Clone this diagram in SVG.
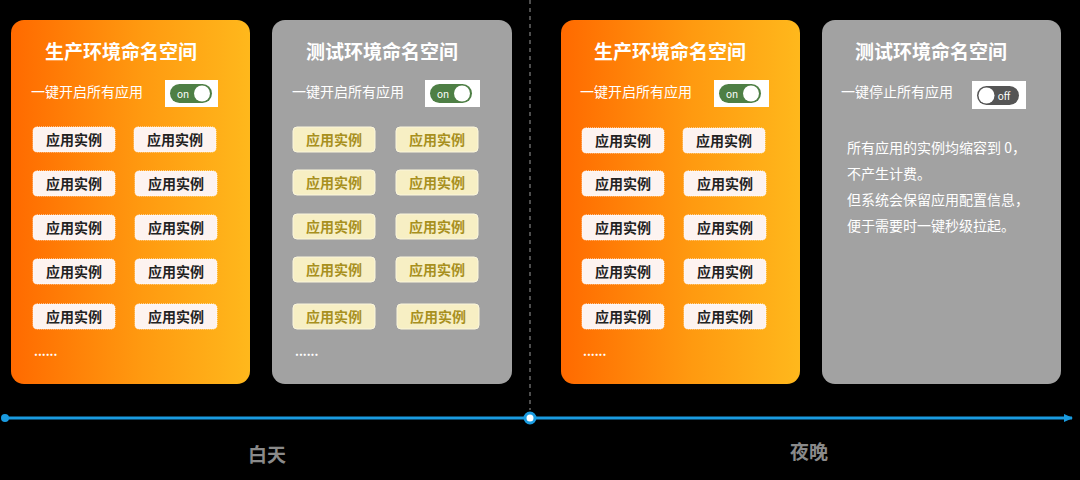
<svg xmlns="http://www.w3.org/2000/svg" width="1080" height="480" viewBox="0 0 1080 480">
<defs>
<linearGradient id="og" x1="0" y1="0" x2="1" y2="0">
<stop offset="0" stop-color="#ff6a00"/>
<stop offset="0.55" stop-color="#ff9a10"/>
<stop offset="1" stop-color="#ffb81c"/>
</linearGradient>
<marker id="arr" markerWidth="10" markerHeight="10" refX="8" refY="5" orient="auto" markerUnits="userSpaceOnUse">
<path d="M0,1 L9,5 L0,9 Z" fill="#1a9be0"/>
</marker>
<style>
text{font-family:"Noto Sans CJK SC","Noto Sans",sans-serif}
.title{font-size:19px;font-weight:bold;fill:#ffffff;text-anchor:middle}
.row{font-size:14px;fill:#ffffff}
.inst{fill:#fdf3f0;stroke:#ffffff;stroke-width:1;stroke-dasharray:1 1}
.instT{font-size:14px;font-weight:bold;fill:#222222;text-anchor:middle}
.inst2{fill:#f7efc4;stroke:#fbf6dc;stroke-width:1}
.instT2{font-size:14px;font-weight:bold;fill:#a8901e;text-anchor:middle}
.para{font-size:14px;fill:#ffffff}
.lbl{font-size:19px;font-weight:bold;fill:#8a8a8a;text-anchor:middle}
.dots{font-size:12px;fill:#ffffff;font-weight:bold}
</style>
</defs>
<rect width="1080" height="480" fill="#000000"/>

<g id="connectors">
<line x1="530" y1="0" x2="530" y2="410" stroke="#9a9a9a" stroke-width="1" stroke-dasharray="4 4"/>
<line x1="4" y1="418" x2="1072" y2="418" stroke="#1a9be0" stroke-width="3" marker-end="url(#arr)"/>
<circle cx="5" cy="418" r="4" fill="#1a9be0"/>
<circle cx="530" cy="418" r="5" fill="#ffffff" stroke="#1a9be0" stroke-width="3"/>
</g>

<g id="panel-prod-day">
<rect x="11" y="20" width="239" height="364" rx="13" fill="url(#og)"/>
<text class="title" x="121" y="59">生产环境命名空间</text>
<text class="row" x="31" y="97">一键开启所有应用</text>
<rect x="165" y="80" width="53" height="27" fill="#ffffff"/>
<rect x="170" y="84" width="42" height="19" rx="9.5" fill="#4e7f45"/>
<text x="183" y="98" font-size="10" fill="#ffffff" text-anchor="middle" font-family="Liberation Sans">on</text>
<circle cx="202" cy="93.5" r="8" fill="#ffffff"/>
<rect class="inst" x="33" y="127" width="82" height="25" rx="4"/><text class="instT" x="74" y="145">应用实例</text>
<rect class="inst" x="134" y="127" width="82" height="25" rx="4"/><text class="instT" x="175" y="145">应用实例</text>
<rect class="inst" x="33" y="171" width="82" height="25" rx="4"/><text class="instT" x="74" y="189">应用实例</text>
<rect class="inst" x="135" y="171" width="82" height="25" rx="4"/><text class="instT" x="176" y="189">应用实例</text>
<rect class="inst" x="33" y="215" width="82" height="25" rx="4"/><text class="instT" x="74" y="233">应用实例</text>
<rect class="inst" x="135" y="215" width="82" height="25" rx="4"/><text class="instT" x="176" y="233">应用实例</text>
<rect class="inst" x="33" y="259" width="82" height="25" rx="4"/><text class="instT" x="74" y="277">应用实例</text>
<rect class="inst" x="135" y="259" width="82" height="25" rx="4"/><text class="instT" x="176" y="277">应用实例</text>
<rect class="inst" x="33" y="304" width="82" height="25" rx="4"/><text class="instT" x="74" y="322">应用实例</text>
<rect class="inst" x="135" y="304" width="82" height="25" rx="4"/><text class="instT" x="176" y="322">应用实例</text>
<text class="dots" x="34" y="356">......</text>
</g>

<g id="panel-test-day">
<rect x="272" y="20" width="240" height="364" rx="13" fill="#a2a2a2"/>
<text class="title" x="382" y="59">测试环境命名空间</text>
<text class="row" x="292" y="97">一键开启所有应用</text>
<rect x="425" y="80" width="55" height="27" fill="#ffffff"/>
<rect x="430" y="84" width="42" height="19" rx="9.5" fill="#4e7f45"/>
<text x="443" y="98" font-size="10" fill="#ffffff" text-anchor="middle" font-family="Liberation Sans">on</text>
<circle cx="462" cy="93.5" r="8" fill="#ffffff"/>
<rect class="inst2" x="293" y="127" width="82" height="25" rx="4"/><text class="instT2" x="334" y="145">应用实例</text>
<rect class="inst2" x="396" y="127" width="82" height="25" rx="4"/><text class="instT2" x="437" y="145">应用实例</text>
<rect class="inst2" x="293" y="170" width="82" height="25" rx="4"/><text class="instT2" x="334" y="188">应用实例</text>
<rect class="inst2" x="396" y="170" width="82" height="25" rx="4"/><text class="instT2" x="437" y="188">应用实例</text>
<rect class="inst2" x="293" y="214" width="82" height="25" rx="4"/><text class="instT2" x="334" y="232">应用实例</text>
<rect class="inst2" x="396" y="214" width="82" height="25" rx="4"/><text class="instT2" x="437" y="232">应用实例</text>
<rect class="inst2" x="293" y="257" width="82" height="25" rx="4"/><text class="instT2" x="334" y="275">应用实例</text>
<rect class="inst2" x="396" y="257" width="82" height="25" rx="4"/><text class="instT2" x="437" y="275">应用实例</text>
<rect class="inst2" x="293" y="304" width="82" height="25" rx="4"/><text class="instT2" x="334" y="322">应用实例</text>
<rect class="inst2" x="397" y="304" width="82" height="25" rx="4"/><text class="instT2" x="438" y="322">应用实例</text>
<text class="dots" x="295" y="356">......</text>
</g>

<g id="panel-prod-night">
<rect x="561" y="20" width="239" height="364" rx="13" fill="url(#og)"/>
<text class="title" x="670" y="59">生产环境命名空间</text>
<text class="row" x="580" y="97">一键开启所有应用</text>
<rect x="714" y="80" width="55" height="27" fill="#ffffff"/>
<rect x="719" y="84" width="42" height="19" rx="9.5" fill="#4e7f45"/>
<text x="732" y="98" font-size="10" fill="#ffffff" text-anchor="middle" font-family="Liberation Sans">on</text>
<circle cx="751" cy="93.5" r="8" fill="#ffffff"/>
<rect class="inst" x="582" y="128" width="82" height="25" rx="4"/><text class="instT" x="623" y="146">应用实例</text>
<rect class="inst" x="683" y="128" width="82" height="25" rx="4"/><text class="instT" x="724" y="146">应用实例</text>
<rect class="inst" x="582" y="171" width="82" height="25" rx="4"/><text class="instT" x="623" y="189">应用实例</text>
<rect class="inst" x="684" y="171" width="82" height="25" rx="4"/><text class="instT" x="725" y="189">应用实例</text>
<rect class="inst" x="582" y="215" width="82" height="25" rx="4"/><text class="instT" x="623" y="233">应用实例</text>
<rect class="inst" x="684" y="215" width="82" height="25" rx="4"/><text class="instT" x="725" y="233">应用实例</text>
<rect class="inst" x="582" y="259" width="82" height="25" rx="4"/><text class="instT" x="623" y="277">应用实例</text>
<rect class="inst" x="684" y="259" width="82" height="25" rx="4"/><text class="instT" x="725" y="277">应用实例</text>
<rect class="inst" x="582" y="304" width="82" height="25" rx="4"/><text class="instT" x="623" y="322">应用实例</text>
<rect class="inst" x="684" y="304" width="82" height="25" rx="4"/><text class="instT" x="725" y="322">应用实例</text>
<text class="dots" x="583" y="356">......</text>
</g>

<g id="panel-test-night">
<rect x="822" y="20" width="239" height="364" rx="13" fill="#a2a2a2"/>
<text class="title" x="931" y="59">测试环境命名空间</text>
<text class="row" x="841" y="97">一键停止所有应用</text>
<rect x="972" y="81" width="54" height="28" fill="#ffffff"/>
<rect x="977" y="86" width="42" height="19" rx="9.5" fill="#555555"/>
<circle cx="986.5" cy="95.5" r="8" fill="#ffffff"/>
<text x="1004" y="100" font-size="10" fill="#ffffff" text-anchor="middle" font-family="Liberation Sans">off</text>
<text class="para" x="847" y="153">所有应用的实例均缩容到 0，</text>
<text class="para" x="847" y="179">不产生计费。</text>
<text class="para" x="847" y="205">但系统会保留应用配置信息，</text>
<text class="para" x="847" y="231">便于需要时一键秒级拉起。</text>
</g>

<g id="labels">
<text class="lbl" x="267" y="462">白天</text>
<text class="lbl" x="809" y="459">夜晚</text>
</g>
</svg>
